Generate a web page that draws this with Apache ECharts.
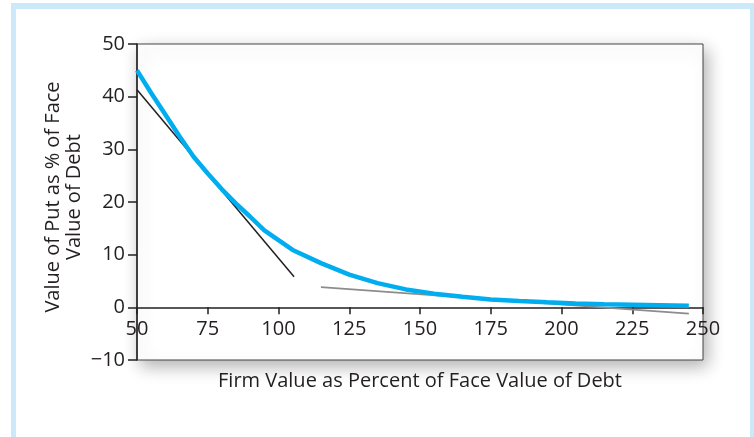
<!DOCTYPE html>
<html>
<head>
<meta charset="utf-8">
<script src="https://cdn.jsdelivr.net/npm/echarts@6/dist/echarts.min.js"></script>
<style>
html,body{margin:0;padding:0;background:#fff;}
#chart{width:754px;height:437px;}
</style>
</head>
<body>
<div id="chart"></div>
<script>
// Put value curve (firm value %, put value %)
const firmValues = [50,55,60,65,70,75,80,85,90,95,105,115,125,135,145,155,165,175,185,195,205,215,225,235,245];
const putValues  = [45,40.7,36.6,32.5,28.6,25.4,22.4,19.7,17.2,14.6,10.9,8.4,6.2,4.6,3.4,2.6,2.0,1.5,1.2,0.95,0.75,0.6,0.5,0.4,0.3];
// Tangent line at low firm value
const tangentLowX = [50, 105.5];
const tangentLowY = [41.3, 5.8];
// Tangent line at high firm value
const tangentHighX = [115, 245];
const tangentHighY = [3.85, -1.2];
// Axis settings
const xTicks = {min:50, max:250, interval:25};
const yTicks = {min:-10, max:50, interval:10};
const xTitle = 'Firm Value as Percent of Face Value of Debt';
const yTitle = 'Value of Put as % of Face\nValue of Debt';

const font = 'Open Sans';
const txt = '#231f20';
const gridTop = 44, gridBottom = 77, chartH = 437;
const plotH = chartH - gridTop - gridBottom;
// distance from plot bottom (y min) up to y = 0, so x axis sits on zero
const zeroOffset = -plotH * (0 - yTicks.min) / (yTicks.max - yTicks.min);

const chart = echarts.init(document.getElementById('chart'));
chart.setOption({
  backgroundColor:'#fff',
  animation:false,
  graphic:[
    {type:'rect', z:-20, shape:{x:11,y:3,width:743,height:440}, style:{fill:'#cce9f9'}},
    {type:'rect', z:-19, shape:{x:16,y:9,width:734,height:430}, style:{fill:'#ffffff'}}
  ],
  grid:{
    left:137, right:51, top:gridTop, bottom:gridBottom,
    outerBoundsMode:'none',
    show:true, backgroundColor:'#fff', borderColor:'#444', borderWidth:1,
    shadowBlur:16, shadowColor:'rgba(0,0,0,0.3)', shadowOffsetX:4, shadowOffsetY:6
  },
  xAxis:{
    type:'value', min:xTicks.min, max:xTicks.max, interval:xTicks.interval,
    offset:zeroOffset,
    axisLine:{onZero:false, lineStyle:{color:txt, width:1.5}},
    axisTick:{show:true, length:7, lineStyle:{color:txt, width:1.5}},
    axisLabel:{color:txt, fontFamily:font, fontSize:20, margin:12},
    splitLine:{show:false},
    name:xTitle, nameLocation:'middle', nameGap:64, nameMoveOverlap:false,
    nameTextStyle:{color:txt, fontFamily:font, fontSize:20}
  },
  yAxis:{
    type:'value', min:yTicks.min, max:yTicks.max, interval:yTicks.interval,
    axisLine:{show:true, lineStyle:{color:txt, width:1.5}},
    axisTick:{show:true, length:9, lineStyle:{color:txt, width:1.5}},
    axisLabel:{color:txt, fontFamily:font, fontSize:20, margin:12,
      formatter:v => v < 0 ? '\u2212' + Math.abs(v) : String(v)},
    splitLine:{show:false},
    name:yTitle, nameLocation:'middle', nameGap:52, nameMoveOverlap:false,
    nameTextStyle:{color:txt, fontFamily:font, fontSize:20, lineHeight:21, padding:[0,0,0,10]}
  },
  series:[
    {type:'line', data:tangentLowX.map((x,i)=>[x,tangentLowY[i]]), symbol:'none',
     lineStyle:{color:'#231f20', width:1.5}, z:2},
    {type:'line', data:tangentHighX.map((x,i)=>[x,tangentHighY[i]]), symbol:'none',
     lineStyle:{color:'#8c8c8c', width:1.8}, z:2},
    {type:'line', data:firmValues.map((x,i)=>[x,putValues[i]]), symbol:'none',
     lineStyle:{color:'#00aeef', width:4.5}, z:3}
  ]
});
</script>
</body>
</html>
